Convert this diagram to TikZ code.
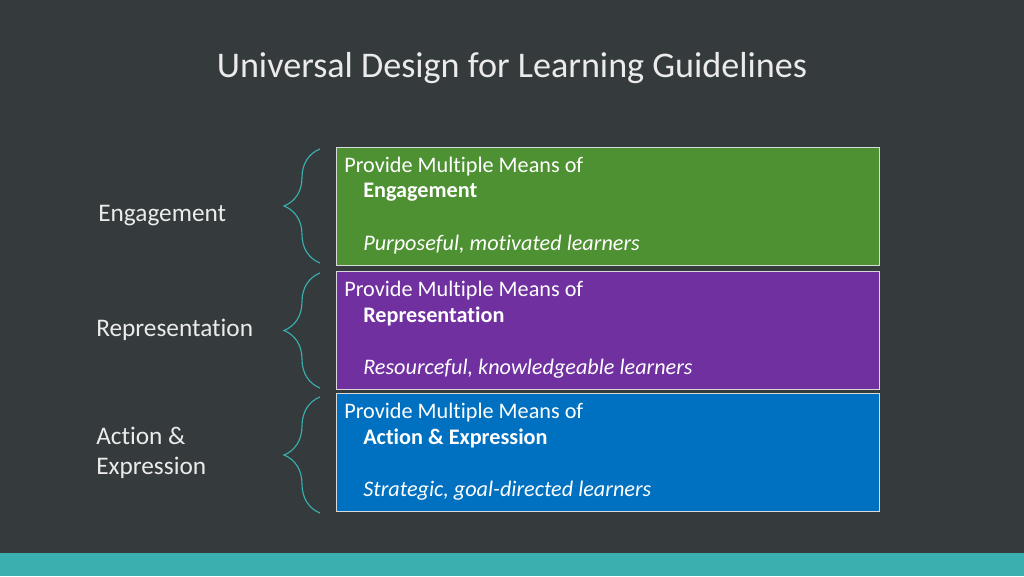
\documentclass[tikz,border=0pt]{standalone}
\usepackage{fontspec}
\setmainfont{Carlito}[Ligatures={NoCommon}]
\usetikzlibrary{positioning,decorations.pathreplacing}
\definecolor{slate}{HTML}{353B3D}
\definecolor{band}{HTML}{3AAFB0}
\definecolor{gengreen}{HTML}{4E9132}
\definecolor{genpurple}{HTML}{7030A0}
\definecolor{genblue}{HTML}{0070C0}
\tikzset{
  meansbox/.style={draw=white!85!black,line width=0.6pt,minimum width=13.575cm,minimum height=2.95cm,anchor=north west},
  boxtext/.style={anchor=north west,text=white,font=\fontsize{15.8}{19}\selectfont,align=left,inner sep=0pt},
  sidelabel/.style={anchor=west,text=white!92!black,font=\fontsize{18}{21.5}\selectfont,align=left,inner sep=0pt},
  bracket/.style={draw=band,line width=0.8pt,decorate,decoration={brace,amplitude=0.9cm}}
}
\begin{document}
\begin{tikzpicture}
    % background and bottom band
    \fill[slate] (0,0) rectangle (25.6,14.4);
    \fill[band] (0,0) rectangle (25.6,0.575);
    \node[text=white!92!black,font=\fontsize{25.7}{30}\selectfont] (title) at (12.8,12.7) {Universal Design for Learning Guidelines};

    % boxes with their texts
    \foreach \name/\col/\top/\what/\who in {eng/gengreen/10.725/Engagement/{Purposeful, motivated learners},
      rep/genpurple/7.625/Representation/{Resourceful, knowledgeable learners},
      act/genblue/4.575/Action \& Expression/{Strategic, goal-directed learners}}{
      \node[meansbox,fill=\col] (\name) at (8.4,\top) {};
      \node[boxtext] (\name-a) at ([xshift=0.2cm,yshift=-0.25cm]\name.north west) {Provide Multiple Means of};
      \node[boxtext,font=\fontsize{15.8}{19}\selectfont\bfseries] (\name-b) at ([xshift=0.675cm,yshift=-0.9cm]\name.north west) {\what};
      \node[boxtext,font=\fontsize{15.8}{19}\selectfont\itshape] (\name-c) at ([xshift=0.675cm,yshift=-2.2cm]\name.north west) {\who};
    }

    % braces
    \draw[bracket] (8.0,7.825) -- (8.0,10.675);
    \draw[bracket] (8.0,4.7) -- (8.0,7.575);
    \draw[bracket] (8.0,1.575) -- (8.0,4.475);

    % side labels
    \node[sidelabel] (l-eng) at (2.45,9.0) {Engagement};
    \node[sidelabel] (l-rep) at (2.4,6.15) {Representation};
    \node[sidelabel] (l-act) at (2.4,3.07) {Action \&\\Expression};
\end{tikzpicture}
\end{document}
